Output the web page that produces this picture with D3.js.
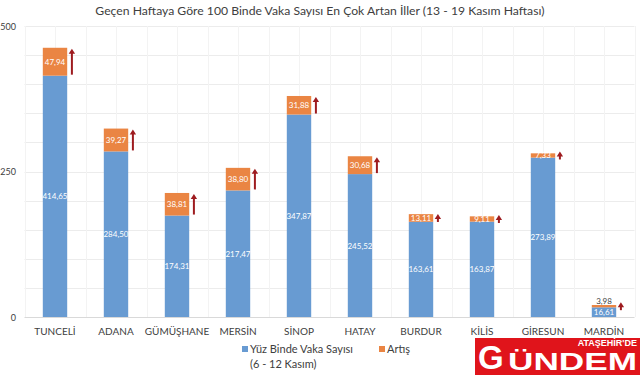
<!DOCTYPE html>
<html><head><meta charset="utf-8">
<script src="https://cdn.jsdelivr.net/npm/d3@7/dist/d3.min.js"></script>
<style>body{margin:0;background:#fff;}svg{display:block;}</style>
</head><body><svg id="c" width="640" height="375"></svg>
<script>
const categories = ["TUNCELİ","ADANA","GÜMÜŞHANE","MERSİN","SİNOP","HATAY","BURDUR","KİLİS","GİRESUN","MARDİN"];
const baseValues = [414.65,284.50,174.31,217.47,347.87,245.52,163.61,163.87,273.89,16.61];
const increaseValues = [47.94,39.27,38.81,38.80,31.88,30.68,13.11,9.11,7.33,3.98];
const yTicks = [0,250,500];
const gridTicks = [0,50,100,150,200,250,300,350,400,450,500];
const seriesNames = ["Yüz Binde Vaka Sayısı","Artış"];
const titleText = "Geçen Haftaya Göre 100 Binde Vaka Sayısı En Çok Artan İller (13 - 19 Kasım Haftası)";

const font = "Lato, 'Open Sans', sans-serif";
const blue = "#689bd2", orange = "#ea8543", arrowCol = "#9e1b1f";
const svg = d3.select("#c");
const L = 24.5, R = 634.5, T = 26, B = 317;
const x = d3.scaleBand().domain(categories).range([L, R]).paddingInner(0.6).paddingOuter(0.3);
const y = d3.scaleLinear().domain([0, 500]).range([B, T]);
const fmt = v => v.toFixed(2).replace(".", ",");

// title
svg.append("text").attr("x", 320).attr("y", 15).attr("text-anchor", "middle")
  .attr("font-family", font).attr("font-size", 12.2).attr("fill", "#404040").text(titleText);

// grid
svg.append("g").selectAll("line").data(gridTicks).join("line")
  .attr("x1", L).attr("x2", R).attr("y1", d => Math.round(y(d)) + 0.5).attr("y2", d => Math.round(y(d)) + 0.5)
  .attr("stroke", d => d === 0 ? "#d9d9d9" : "#ececec").attr("stroke-width", 1);
const step = x.step();
const vLines = d3.range(0, categories.length * 2 + 1).map(i => L + i * step / 2);
svg.append("g").selectAll("line").data(vLines).join("line")
  .attr("x1", d => Math.round(d) + 0.5).attr("x2", d => Math.round(d) + 0.5).attr("y1", T).attr("y2", B)
  .attr("stroke", "#f3f3f3").attr("stroke-width", 1);

// y axis labels
svg.append("g").selectAll("text").data(yTicks).join("text")
  .attr("x", 16).attr("y", d => y(d) + 3.5).attr("text-anchor", "end")
  .attr("font-family", font).attr("font-size", 9).attr("fill", "#404040").text(d => d);

// bars
const g = svg.append("g");
categories.forEach((c, i) => {
  const b = baseValues[i], inc = increaseValues[i];
  const x0 = x(c), w = x.bandwidth();
  g.append("rect").attr("x", x0).attr("width", w).attr("y", y(b)).attr("height", y(0) - y(b)).attr("fill", blue);
  g.append("rect").attr("x", x0).attr("width", w).attr("y", y(b + inc)).attr("height", y(b) - y(b + inc)).attr("fill", orange);
  g.append("text").attr("x", x0 + w / 2).attr("y", (y(0) + y(b)) / 2 + 3).attr("text-anchor", "middle")
    .attr("font-family", font).attr("font-size", 8).attr("fill", "#fff").text(fmt(b));
  const isTiny = (y(b) - y(b + inc)) < 4;
  g.append("text").attr("x", x0 + w / 2)
    .attr("y", isTiny ? y(b + inc) - 1 : (y(b) + y(b + inc)) / 2 + 3).attr("text-anchor", "middle")
    .attr("font-family", font).attr("font-size", 8).attr("fill", isTiny ? "#404040" : "#fff").text(fmt(inc));
  // arrow
  const ax = x0 + w + 4.7;
  let top = y(b + inc) + 1, bot = y(b) - 1;
  if (bot - top < 7) { const m = (y(b) + y(b + inc)) / 2; top = m - 4; bot = m + 4; }
  g.append("line").attr("x1", ax).attr("x2", ax).attr("y1", top + 4).attr("y2", bot)
    .attr("stroke", arrowCol).attr("stroke-width", 2);
  g.append("path").attr("d", `M${ax - 3.2},${top + 5} L${ax},${top} L${ax + 3.2},${top + 5} Z`).attr("fill", arrowCol);
});

// category labels
svg.append("g").selectAll("text").data(categories).join("text")
  .attr("x", d => x(d) + x.bandwidth() / 2).attr("y", 335).attr("text-anchor", "middle")
  .attr("font-family", font).attr("font-size", 10).attr("fill", "#404040").text(d => d);

// legend
const lg = svg.append("g").attr("font-family", font).attr("font-size", 11).attr("fill", "#404040");
lg.append("rect").attr("x", 242).attr("y", 346).attr("width", 6).attr("height", 6).attr("fill", blue);
lg.append("text").attr("x", 250).attr("y", 353).text(seriesNames[0]);
lg.append("text").attr("x", 250).attr("y", 368).text("(6 - 12 Kasım)");
lg.append("rect").attr("x", 379).attr("y", 346).attr("width", 6).attr("height", 6).attr("fill", orange);
lg.append("text").attr("x", 387).attr("y", 353).text(seriesNames[1]);

// logo
const lf = "'Liberation Sans', Arial, sans-serif";
const lgo = svg.append("g");
lgo.append("rect").attr("x", 475).attr("y", 338).attr("width", 165).attr("height", 37).attr("fill", "#e0141b");
lgo.append("text").attr("x", 478).attr("y", 369).attr("font-family", lf)
  .attr("font-weight", "bold").attr("font-size", 33).attr("fill", "#fff").text("G");
lgo.append("text").attr("x", 508).attr("y", 370).attr("font-family", lf)
  .attr("font-weight", "bold").attr("font-size", 24).attr("fill", "#fff")
  .attr("textLength", 129).attr("lengthAdjust", "spacingAndGlyphs").text("ÜNDEM");
lgo.append("text").attr("x", 637).attr("y", 345.5).attr("text-anchor", "end").attr("font-family", lf)
  .attr("font-weight", "bold").attr("font-size", 9).attr("fill", "#fff").text("ATAŞEHİR'DE");
</script></body></html>
